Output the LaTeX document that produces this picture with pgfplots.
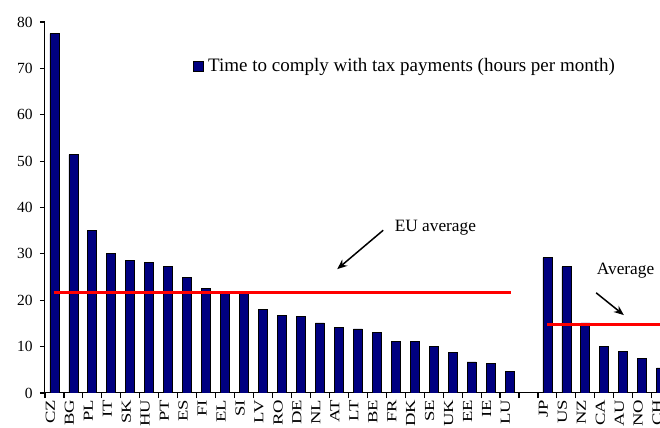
\documentclass[border=0pt]{standalone}
\usepackage{pgfplots}
\pgfplotsset{compat=1.18}
\usepackage{fontspec}
\setmainfont{Liberation Serif}
\newfontfamily\catfont[FakeStretch=1.35]{Liberation Serif}
\usetikzlibrary{arrows.meta}
\definecolor{barnavy}{RGB}{0,0,128}
\pgfplotstableread{
idx val
0 77.5
1 51.4
2 35.1
3 30.1
4 28.6
5 28.2
6 27.2
7 24.9
8 22.6
9 21.9
10 21.4
11 18.1
12 16.8
13 16.5
14 15.1
15 14.1
16 13.8
17 13.0
18 11.1
19 11.1
20 10.1
21 8.8
22 6.7
23 6.4
24 4.7
26 29.2
27 27.2
28 15.1
29 10.1
30 9.0
31 7.4
32 5.4
}\datatable
\pgfplotstableread{
x y
-0.05 21.6
24.1 21.6
}\euavg
\pgfplotstableread{
x y
26 14.8
33 14.8
}\otheravg
\begin{document}
\begin{tikzpicture}
% axis lines, boundary ticks on the category axis, value ticks and labels
\begin{axis}[
  at={(0,0)}, anchor=south west,
  scale only axis,
  width=312.84pt, height=185.5pt,
  xmin=-0.5, xmax=32.5,
  ymin=0, ymax=80,
  axis x line*=bottom, axis y line*=left,
  axis line style={black, line width=0.5pt},
  ytick={0,10,...,80},
  xtick={-0.5,0.5,...,32.5},
  xticklabels={},
  tick align=outside,
  major tick length=2.6pt,
  tick style={black, line width=0.55pt},
  /pgf/number format/assume math mode=true,
  yticklabel style={font=\fontsize{7.75}{8}\selectfont, anchor=east},
]
\addplot[draw=none, forget plot] coordinates {(0,0)};
\end{axis}
\begin{axis}[
  at={(0,0)}, anchor=south west,
  scale only axis,
  width=312.84pt, height=185.5pt,
  xmin=-0.5, xmax=32.5,
  ymin=0, ymax=80,
  axis x line*=bottom, axis y line=none,
  axis line style={black, line width=0.5pt},
  ytick=\empty,
  xtick={0,...,32},
  xticklabels={CZ,BG,PL,IT,SK,HU,PT,ES,FI,EL,SI,LV,RO,DE,NL,AT,LT,BE,FR,DK,SE,UK,EE,IE,LU,{},JP,US,NZ,CA,AU,NO,CH},
  major tick length=0pt,
  xtick style={draw=none},
  xticklabel style={font=\catfont\fontsize{6.9}{7}\selectfont, rotate=90, anchor=east, yshift=2pt},
  ybar, bar width=4.5pt,
  legend style={draw=none, fill=none, at={(0.2365,0.881)}, anchor=west, inner sep=0pt,
    font=\fontsize{9.5}{10}\selectfont, legend cell align=left},
  legend image code/.code={\draw[fill=barnavy, draw=black, line width=0.4pt] (0pt,-2.5pt) rectangle (5pt,2.5pt);},
  clip=true,
]
\addplot[fill=barnavy, draw=black, line width=0.4pt] table[x=idx, y=val] {\datatable};
\addlegendentry{Time to comply with tax payments (hours per month)}
\addplot[sharp plot, red, line width=1.5pt, forget plot] table[x=x, y=y] {\euavg};
\addplot[sharp plot, red, line width=1.5pt, forget plot] table[x=x, y=y] {\otheravg};
\draw[-{Stealth[length=5pt, width=4pt]}, line width=0.75pt, black] (axis cs:17.34,35.1) -- (axis cs:14.91,26.7);
\node[anchor=west, inner sep=0pt, font=\fontsize{8.65}{9}\selectfont] at (axis cs:17.93,35.6) {EU average};
\draw[-{Stealth[length=5pt, width=4pt]}, line width=0.75pt, black] (axis cs:28.57,21.6) -- (axis cs:30.03,16.8);
\node[anchor=west, inner sep=0pt, font=\fontsize{8.65}{9}\selectfont] at (axis cs:28.59,26.3) {Average};
\end{axis}
\pgfresetboundingbox
\path[use as bounding box] (-22.5pt,-17.5pt) rectangle (307.5pt,196.5pt);
\end{tikzpicture}
\end{document}
